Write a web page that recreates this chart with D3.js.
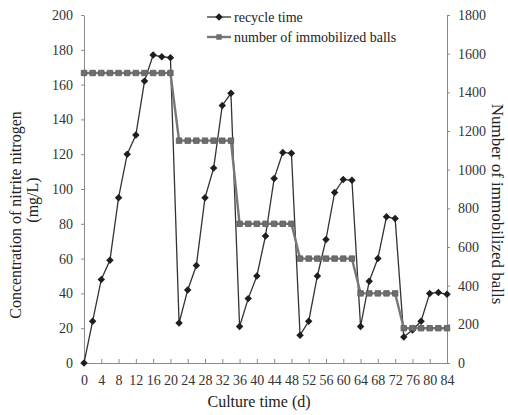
<!DOCTYPE html>
<html>
<head>
<meta charset="utf-8">
<script src="https://cdn.jsdelivr.net/npm/d3@7"></script>
<style>
  body { margin: 0; background: #fff; }
  svg { display: block; }
  text { font-family: "Liberation Serif", "Times New Roman", serif; }
</style>
</head>
<body>
<svg id="chart" width="508" height="415"></svg>
<script>
// culture time (d)
const days = [0, 2, 4, 6, 8, 10, 12, 14, 16, 18, 20, 22, 24, 26, 28, 30, 32, 34, 36, 38, 40, 42,
  44, 46, 48, 50, 52, 54, 56, 58, 60, 62, 64, 66, 68, 70, 72, 74, 76, 78, 80, 82, 84];

// nitrite nitrogen (mg/L), "recycle time"
const recycleTime = [0, 24, 48, 59, 95, 120, 131, 162, 177, 176, 175.5,
  23, 42, 56, 95, 112, 148, 155,
  21, 37, 50, 73, 106, 121, 120.5,
  16, 24, 50, 71, 98, 105.5, 105,
  21, 47, 60, 84, 83,
  15, 19, 24, 40, 40.5, 39.5];

// number of immobilized balls
const immobilizedBalls = [1500, 1500, 1500, 1500, 1500, 1500, 1500, 1500, 1500, 1500, 1500,
  1150, 1150, 1150, 1150, 1150, 1150, 1150,
  720, 720, 720, 720, 720, 720, 720,
  540, 540, 540, 540, 540, 540, 540,
  360, 360, 360, 360, 360,
  180, 180, 180, 180, 180, 180];

const xTicks = [0, 4, 8, 12, 16, 20, 24, 28, 32, 36, 40, 44, 48, 52, 56, 60, 64, 68, 72, 76, 80, 84];
const leftTicks = [0, 20, 40, 60, 80, 100, 120, 140, 160, 180, 200];
const rightTicks = [0, 200, 400, 600, 800, 1000, 1200, 1400, 1600, 1800];

const svg = d3.select("#chart");

const x = d3.scaleLinear().domain([0, 84]).range([84, 447]);
const yL = d3.scaleLinear().domain([0, 200]).range([363, 15]);
const yR = d3.scaleLinear().domain([0, 1800]).range([363, 15]);

const axisColor = "#8a8a8a";
const labelColor = "#333";
const serif = '"Liberation Serif", "Times New Roman", serif';

function styleAxis(g) {
  g.attr("font-family", serif).attr("font-size", 14);
  g.select(".domain").attr("stroke", axisColor);
  g.selectAll(".tick line").attr("stroke", axisColor);
  g.selectAll(".tick text").attr("fill", labelColor);
}

// bottom axis, ticks pointing up
svg.append("g")
  .attr("transform", "translate(0,363)")
  .call(d3.axisBottom(x).tickValues(xTicks).tickSizeInner(-4).tickSizeOuter(0).tickPadding(12))
  .call(styleAxis);

// left axis
svg.append("g")
  .attr("transform", "translate(84,0)")
  .call(d3.axisLeft(yL).tickValues(leftTicks).tickSize(3).tickSizeOuter(0).tickPadding(8))
  .call(styleAxis);

// right axis
svg.append("g")
  .attr("transform", "translate(447,0)")
  .call(d3.axisRight(yR).tickValues(rightTicks).tickFormat(d3.format("d"))
    .tickSize(3).tickSizeOuter(0).tickPadding(8))
  .call(styleAxis);

// titles
svg.append("text")
  .attr("x", 259)
  .attr("y", 407)
  .attr("text-anchor", "middle")
  .attr("fill", "#222")
  .style("font-size", "16px")
  .text("Culture time (d)");

svg.append("text")
  .attr("transform", "translate(21,215) rotate(-90)")
  .attr("text-anchor", "middle")
  .attr("fill", "#222")
  .style("font-size", "16px")
  .text("Concentration of nitrite nitrogen");

svg.append("text")
  .attr("transform", "translate(38,200) rotate(-90)")
  .attr("text-anchor", "middle")
  .attr("fill", "#222")
  .style("font-size", "16px")
  .text("(mg/L)");

svg.append("text")
  .attr("transform", "translate(492,204) rotate(90)")
  .attr("text-anchor", "middle")
  .attr("fill", "#222")
  .style("font-size", "17px")
  .text("Number of immobilized balls");

const recycleData = days.map((d, i) => ({ day: d, v: recycleTime[i] }));
const ballData = days.map((d, i) => ({ day: d, v: immobilizedBalls[i] }));

const diamond = d3.symbol(d3.symbolSquare, 28);
const square = d3.symbol(d3.symbolSquare, 30);

// recycle time series
svg.append("path")
  .datum(recycleData)
  .attr("fill", "none")
  .attr("stroke", "#333")
  .attr("stroke-width", 1.3)
  .attr("d", d3.line().x((d) => x(d.day)).y((d) => yL(d.v)));

svg.append("g")
  .selectAll("path")
  .data(recycleData)
  .join("path")
  .attr("d", diamond)
  .attr("transform", (d) => `translate(${x(d.day)},${yL(d.v)}) rotate(45)`)
  .attr("fill", "#1e1e1e");

// immobilized balls series
svg.append("path")
  .datum(ballData)
  .attr("fill", "none")
  .attr("stroke", "#777")
  .attr("stroke-width", 2.4)
  .attr("d", d3.line().x((d) => x(d.day)).y((d) => yR(d.v)));

svg.append("g")
  .selectAll("path")
  .data(ballData)
  .join("path")
  .attr("d", square)
  .attr("transform", (d) => `translate(${x(d.day)},${yR(d.v)})`)
  .attr("fill", "#6e6e6e")
  .attr("stroke", "#5a5a5a")
  .attr("stroke-width", 0.8);

// legend
const legend = svg.append("g").attr("transform", "translate(207,0)");
const legendItems = [
  { label: "recycle time", y: 17, stroke: "#333", sw: 1.3, sym: diamond, rot: 45, fill: "#1e1e1e" },
  { label: "number of immobilized balls", y: 37, stroke: "#777", sw: 2.4, sym: square, rot: 0, fill: "#6e6e6e" }
];
legendItems.forEach((it) => {
  legend.append("line")
    .attr("x1", 0).attr("x2", 24)
    .attr("y1", it.y).attr("y2", it.y)
    .attr("stroke", it.stroke)
    .attr("stroke-width", it.sw);
  legend.append("path")
    .attr("d", it.sym)
    .attr("transform", `translate(12,${it.y}) rotate(${it.rot})`)
    .attr("fill", it.fill);
  legend.append("text")
    .attr("x", 27)
    .attr("y", it.y + 5)
    .attr("fill", "#222")
    .style("font-size", "14px")
    .text(it.label);
});
</script>
</body>
</html>
